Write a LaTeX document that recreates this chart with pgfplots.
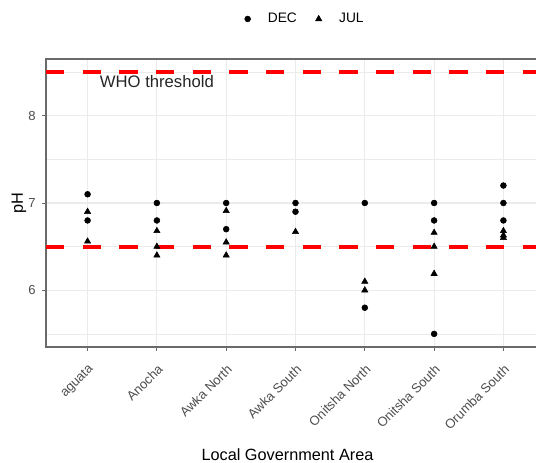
\documentclass[border=0pt]{standalone}
\usepackage{pgfplots}
\pgfplotsset{compat=1.18}
\usepackage{fontspec}
\setmainfont{Liberation Sans}
\definecolor{gridc}{HTML}{EBEBEB}
\definecolor{tickc}{HTML}{4D4D4D}
\definecolor{framec}{HTML}{6A6A6A}
\begin{document}
\begin{tikzpicture}
\useasboundingbox (-34.5pt,-87pt) rectangle (367.5pt,260.25pt);
\begin{axis}[
  at={(0,0)}, anchor=south west,
  scale only axis, width=374.25pt, height=216pt,
  xmin=0.4, xmax=7.6, ymin=5.35, ymax=8.65,
  xtick={1,2,3,4,5,6,7},
  xticklabels={aguata, Anocha, Awka North, Awka South, Onitsha North, Onitsha South, Orumba South},
  ytick={6,7,8},
  minor ytick={5.5,6.5,7.5,8.5},
  grid=both,
  major grid style={gridc, line width=0.8pt},
  minor grid style={gridc, line width=0.45pt},
  axis line style={framec, line width=1.1pt},
  tick align=outside,
  major tick length=2.75pt,
  minor tick length=0pt,
  tick style={framec, line width=0.7pt},
  xtick pos=left, ytick pos=left,
  /pgf/number format/assume math mode=true,
  xticklabel shift=8pt,
  xticklabel style={rotate=45, anchor=north east, font=\fontsize{9.8}{11}\selectfont, text=tickc, inner sep=1pt},
  yticklabel style={font=\fontsize{9.8}{11}\selectfont, text=tickc, xshift=-1.5pt},
  xlabel={Local Government Area},
  xlabel style={at={(axis description cs:0.484,-0.375)}, anchor=center, font=\fontsize{12.2}{14}\selectfont},
  ylabel={pH},
  ylabel style={at={(axis description cs:-0.054,0.5)}, anchor=center, font=\fontsize{12.2}{14}\selectfont},
  legend columns=2,
  legend image code/.code={\draw[#1] plot coordinates {(0pt,0pt)};},
  legend style={at={(axis description cs:0.52,1.139)}, anchor=center, draw=none, fill=none,
    font=\fontsize{10.3}{12}\selectfont,
    /tikz/every odd column/.append style={column sep=11pt},
    /tikz/every even column/.append style={column sep=12pt}},
]
\addplot[only marks, mark=*, mark size=2.2pt, black] coordinates {
 (1,7.1) (1,6.8)
 (2,7.0) (2,6.8)
 (3,7.0) (3,6.7)
 (4,7.0) (4,6.9)
 (5,7.0) (5,5.8)
 (6,7.0) (6,6.8) (6,5.5)
 (7,7.2) (7,7.0) (7,6.8)
};
\addlegendentry{DEC}
\addplot[only marks, mark=triangle*, mark size=2.7pt, black] coordinates {
 (1,6.9) (1,6.56)
 (2,6.68) (2,6.5) (2,6.4)
 (3,6.91) (3,6.55) (3,6.4)
 (4,6.67)
 (5,6.1) (5,6.0)
 (6,6.66) (6,6.5) (6,6.19)
 (7,6.68) (7,6.63) (7,6.6)
};
\addlegendentry{JUL}
\addplot[red, line width=3pt, dash pattern=on 13.75pt off 13.75pt, forget plot] coordinates {(0.4,8.5) (7.6,8.5)};
\addplot[red, line width=3pt, dash pattern=on 13.75pt off 13.75pt, forget plot] coordinates {(0.4,6.5) (7.6,6.5)};
\node[font=\fontsize{12.5}{14}\selectfont, text=black!85] at (axis cs:2,8.39) {WHO threshold};
\end{axis}
\end{tikzpicture}
\end{document}
